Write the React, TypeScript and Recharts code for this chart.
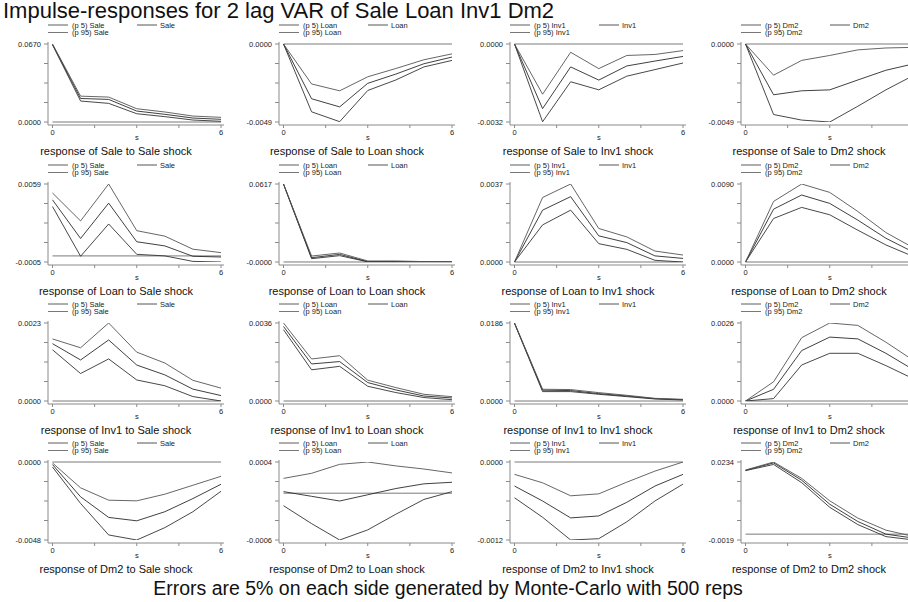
import React from 'react';
import { LineChart, Line, XAxis, YAxis, ReferenceLine } from 'recharts';

// variables of the VAR: rows = response, columns = shock
const vars = ['Sale', 'Loan', 'Inv1', 'Dm2'];
const steps = [0, 1, 2, 3, 4, 5, 6];
const xTicks = [0, 1.5, 3, 4.5, 6];

// axis end labels, row-major (response row, shock column)
const yTop = [
  0.067, 0, 0, 0,
  0.0059, 0.0617, 0.0037, 0.009,
  0.0023, 0.0036, 0.0186, 0.0026,
  0, 0.0004, 0, 0.0234,
];
const yBottom = [
  0, -0.0049, -0.0032, -0.0049,
  -0.0005, -0.00002, 0, 0,
  0, 0, 0, 0,
  -0.0048, -0.0006, -0.0012, -0.0019,
];

// upper band (p 95)
const p95 = [
  [0.067, 0.0222, 0.0214, 0.0114, 0.0086, 0.0051, 0.004],
  [0, -0.00251, -0.00294, -0.00206, -0.00154, -0.00099, -0.00062],
  [0, -0.00206, -0.00034, -0.00101, -0.00047, -0.00043, -0.00027],
  [0, -0.00196, -0.00103, -0.00072, -0.00037, -0.00025, -0.00021],
  [0.00516, 0.00287, 0.0059, 0.00207, 0.00162, 0.00055, 0.00027],
  [0.0617, 0.0047, 0.0071, 0.0008, 0.0008, 0.0003, 0.0002],
  [0, 0.00306, 0.0037, 0.00159, 0.00119, 0.00052, 0.00033],
  [0, 0.00699, 0.009, 0.00803, 0.00583, 0.0034, 0.0016],
  [0.00183, 0.00157, 0.0023, 0.00144, 0.00112, 0.00061, 0.00038],
  [0.0036, 0.00194, 0.00209, 0.00096, 0.00062, 0.00031, 0.0002],
  [0.0186, 0.0028, 0.00273, 0.002, 0.00136, 0.00064, 0.0004],
  [0, 0.00064, 0.00211, 0.0026, 0.00252, 0.00196, 0.00134],
  [-0.00006, -0.00159, -0.00235, -0.00239, -0.00198, -0.00143, -0.00088],
  [0.00019, 0.000255, 0.00037, 0.0004, 0.00035, 0.00031, 0.00026],
  [-0.00019, -0.00032, -0.00052, -0.00049, -0.00031, -0.00014, 0],
  [0.0208, 0.0234, 0.0181, 0.0108, 0.0052, 0.0013, -0.0008],
];

// point estimate
const irf = [
  [0.0667, 0.0202, 0.0194, 0.0094, 0.0066, 0.0034, 0.0023],
  [0, -0.00344, -0.00395, -0.00247, -0.00189, -0.00124, -0.00082],
  [0, -0.00265, -0.00094, -0.00148, -0.0009, -0.0007, -0.00051],
  [0, -0.00319, -0.00294, -0.00288, -0.00226, -0.00165, -0.00124],
  [0.0046, 0.00143, 0.00433, 0.00116, 0.00082, -0.00003, -0.00009],
  [0.0617, 0.0034, 0.006, 0.0003, 0.0003, 0.0001, 0],
  [0, 0.00246, 0.0031, 0.00124, 0.00092, 0.00029, 0.00017],
  [0, 0.0061, 0.00773, 0.00676, 0.00483, 0.00274, 0.0011],
  [0.00169, 0.00121, 0.0018, 0.00106, 0.00077, 0.00035, 0.00016],
  [0.00344, 0.00171, 0.00182, 0.00085, 0.00051, 0.00023, 0.00014],
  [0.0186, 0.00257, 0.00249, 0.00176, 0.0012, 0.00056, 0.00032],
  [0, 0.00039, 0.00168, 0.00213, 0.00207, 0.00159, 0.00103],
  [-0.00016, -0.00214, -0.00341, -0.00362, -0.00306, -0.00225, -0.00137],
  [0.00002, -0.00004, -0.0001, -0.00002, 0.00006, 0.00012, 0.00014],
  [-0.00037, -0.0006, -0.00086, -0.00083, -0.00062, -0.00037, -0.00019],
  [0.0207, 0.0231, 0.0175, 0.0097, 0.0041, 0, -0.0013],
];

// lower band (p 5)
const p5 = [
  [0.0663, 0.018, 0.016, 0.0071, 0.0046, 0.0017, 0.0006],
  [0, -0.00426, -0.00488, -0.00292, -0.00226, -0.00144, -0.00103],
  [0, -0.00319, -0.00155, -0.00188, -0.00132, -0.00105, -0.00078],
  [0, -0.00443, -0.00478, -0.0049, -0.00391, -0.00288, -0.00196],
  [0.00405, -0.00003, 0.00262, 0.00013, 0, -0.00045, -0.0005],
  [0.0616, 0.0026, 0.005, 0.0001, 0, -0.00002, -0.00002],
  [0, 0.00176, 0.00246, 0.00087, 0.0006, 0.00008, 0],
  [0, 0.00502, 0.0063, 0.00545, 0.00367, 0.00197, 0.0006],
  [0.00151, 0.00081, 0.00124, 0.00062, 0.00045, 0.00013, 0],
  [0.00329, 0.00144, 0.0016, 0.00068, 0.00039, 0.00016, 0.00006],
  [0.0185, 0.00224, 0.00224, 0.0016, 0.00104, 0.00048, 0.00024],
  [0, 0.00008, 0.0012, 0.00159, 0.00159, 0.00118, 0.00073],
  [-0.00031, -0.00255, -0.00449, -0.0048, -0.00404, -0.00306, -0.0018],
  [-0.00016, -0.00039, -0.0006, -0.00047, -0.00027, -0.00008, 0.00002],
  [-0.00055, -0.00085, -0.0012, -0.00118, -0.00092, -0.0006, -0.00034],
  [0.0206, 0.0226, 0.0167, 0.0087, 0.0031, -0.0008, -0.0019],
];

const FONT = '"Liberation Sans", Arial, Helvetica, sans-serif';
const colX = [48, 279, 510, 741]; // y axis line of each column
const rowY = [44, 184, 323, 462]; // top value of each row
const AXIS = '#8a8a8a';
const C_P5 = '#333';
const C_IRF = '#2a2a2a';
const C_P95 = '#555';

const XTick = (props: any) => {
  const { x, y, payload, lastCol } = props;
  const v = payload.value;
  const style = { fontSize: 7.5, fontFamily: FONT, fill: '#222' };
  if (v === 0 || (v === 6 && !lastCol)) {
    return <text x={x} y={y} dy={5} textAnchor="middle" style={style}>{v}</text>;
  }
  if (v === 3) {
    return <text x={x} y={y} dy={10} textAnchor="middle" style={style}>s</text>;
  }
  return <g />;
};

function PanelLegend({ left, top, name }: { left: number; top: number; name: string }) {
  const t = { fontSize: 7.5, fontFamily: FONT, fill: '#222' };
  return (
    <svg style={{ position: 'absolute', left: left - 2, top: top - 25 }} width={150} height={18}>
      <line x1={2} x2={22} y1={6} y2={6} stroke={C_P5} strokeWidth={0.8} />
      <text x={26} y={8.5} style={t}>(p 5) {name}</text>
      <line x1={91} x2={111} y1={6} y2={6} stroke={C_IRF} strokeWidth={0.8} />
      <text x={114} y={8.5} style={t}>{name}</text>
      <line x1={2} x2={22} y1={13.5} y2={13.5} stroke={C_P95} strokeWidth={0.8} />
      <text x={26} y={16} style={t}>(p 95) {name}</text>
    </svg>
  );
}

function Panel({ r, c }: { r: number; c: number }) {
  const k = r * 4 + c;
  const lo = yBottom[k];
  const hi = yTop[k];
  const yTicks = [0, 1, 2, 3, 4].map((i) => lo + ((hi - lo) * i) / 4);
  const data = steps.map((s, i) => ({ s, p5: p5[k][i], irf: irf[k][i], p95: p95[k][i] }));
  const ax = colX[c];
  const top = rowY[r];

  return (
    <>
      <PanelLegend left={ax} top={top} name={vars[c]} />
      <div style={{ position: 'absolute', left: ax - 44, top: top - 4 }}>
        <LineChart width={222} height={105} data={data} margin={{ top: 2, right: 2, bottom: 0, left: 0 }}>
          <XAxis
            dataKey="s"
            type="number"
            domain={[0, 6]}
            ticks={xTicks}
            interval={0}
            padding={{ left: 4.5, right: 3 }}
            height={20}
            stroke={AXIS}
            tickSize={3}
            tickMargin={2}
            tick={<XTick lastCol={c === 3} />}
          />
          <YAxis
            type="number"
            domain={[lo, hi]}
            allowDataOverflow
            ticks={yTicks}
            interval={0}
            width={44}
            stroke={AXIS}
            tickSize={4}
            tickMargin={3}
            padding={{ top: 2, bottom: 3 }}
            tick={{ fontSize: 7.5, fill: '#222', fontFamily: FONT }}
            tickFormatter={(v: number, i: number) => (i === 0 || i === 4 ? v.toFixed(4) : '')}
          />
          <ReferenceLine segment={[{ x: 0, y: 0 }, { x: 6, y: 0 }]} stroke="#7a7a7a" />
          <Line type="linear" dataKey="p5" stroke={C_P5} strokeWidth={0.9} dot={false} isAnimationActive={false} />
          <Line type="linear" dataKey="irf" stroke={C_IRF} strokeWidth={0.9} dot={false} isAnimationActive={false} />
          <Line type="linear" dataKey="p95" stroke={C_P95} strokeWidth={0.9} dot={false} isAnimationActive={false} />
        </LineChart>
      </div>
      <div
        style={{
          position: 'absolute',
          left: ax + 68 - 110,
          width: 220,
          top: top + 101,
          fontSize: 11,
          lineHeight: '12px',
          textAlign: 'center',
          fontFamily: FONT,
          color: '#111',
          whiteSpace: 'nowrap',
        }}
      >
        response of {vars[r]} to {vars[c]} shock
      </div>
    </>
  );
}

export default function App() {
  return (
    <div
      style={{
        position: 'absolute',
        left: 0,
        top: 0,
        width: 908,
        height: 602,
        overflow: 'hidden',
        background: '#fff',
        fontFamily: FONT,
      }}
    >
      <div style={{ position: 'absolute', left: 3, top: 0, fontSize: 22, lineHeight: '22px', color: '#111', whiteSpace: 'nowrap' }}>
        Impulse-responses for 2 lag VAR of Sale Loan Inv1 Dm2
      </div>
      {vars.map((_, r) => vars.map((__, c) => <Panel key={`${r}-${c}`} r={r} c={c} />))}
      <div
        style={{
          position: 'absolute',
          left: 0,
          width: 896,
          top: 578,
          fontSize: 19.5,
          lineHeight: '20px',
          textAlign: 'center',
          color: '#111',
          whiteSpace: 'nowrap',
        }}
      >
        Errors are 5% on each side generated by Monte-Carlo with 500 reps
      </div>
    </div>
  );
}
